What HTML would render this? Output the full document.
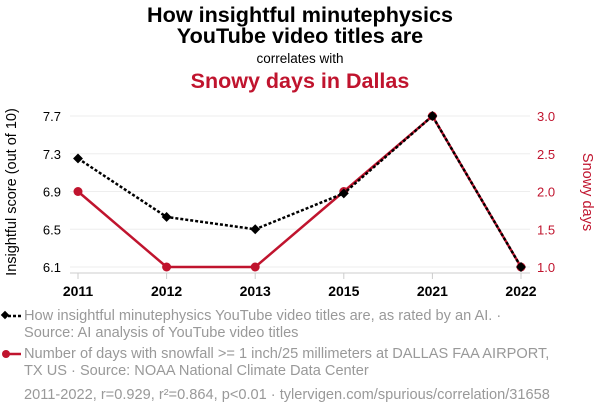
<!DOCTYPE html>
<html><head><meta charset="utf-8"><style>
body{margin:0;background:#fff;font-family:"Liberation Sans",Arial,sans-serif}
svg text{font-family:"Liberation Sans",Arial,sans-serif}
</style></head><body>
<svg id="chart" width="600" height="414" viewBox="0 0 600 414">
<text x="300" y="22" text-anchor="middle" font-size="21.6" font-weight="bold">How insightful minutephysics</text>
<text x="300" y="43" text-anchor="middle" font-size="21.6" font-weight="bold">YouTube video titles are</text>
<text x="300" y="63" text-anchor="middle" font-size="13.5">correlates with</text>
<text x="300" y="88" text-anchor="middle" font-size="21.5" font-weight="bold" fill="#c0142e">Snowy days in Dallas</text>
<g id="grid"></g><g id="axes"></g><g id="marks"></g>
<text transform="translate(16,192) rotate(-90)" text-anchor="middle" font-size="14.5">Insightful score (out of 10)</text>
<text transform="translate(583,192) rotate(90)" text-anchor="middle" font-size="14.5" fill="#c0142e">Snowy days</text>
<g>
<line x1="3" y1="316" x2="21" y2="316" stroke="#000" stroke-width="2.5" stroke-dasharray="3,2"/>
<rect x="2" y="312" width="6" height="6" transform="rotate(45 5 315)" fill="#000"/>
<text x="24" y="320" font-size="14.6" fill="#999">How insightful minutephysics YouTube video titles are, as rated by an AI. ·</text>
<text x="24" y="337" font-size="14.6" fill="#999">Source: AI analysis of YouTube video titles</text>
</g>
<g>
<line x1="3" y1="354" x2="21" y2="354" stroke="#c0142e" stroke-width="2.5"/>
<circle cx="6" cy="354" r="4" fill="#c0142e"/>
<text x="24" y="358" font-size="14.6" fill="#999">Number of days with snowfall &gt;= 1 inch/25 millimeters at DALLAS FAA AIRPORT,</text>
<text x="24" y="375" font-size="14.6" fill="#999">TX US · Source: NOAA National Climate Data Center</text>
</g>
<text x="24" y="399" font-size="14.6" fill="#999">2011-2022, r=0.929, r²=0.864, p&lt;0.01 · tylervigen.com/spurious/correlation/31658</text>
</svg>
<script>
const categories=["2011","2012","2013","2015","2021","2022"];
const insightValues=[7.25,6.63,6.5,6.88,7.7,6.1];
const snowValues=[2,1,1,2,3,1];
const leftTicks=[6.1,6.5,6.9,7.3,7.7];
const rightTicks=[1.0,1.5,2.0,2.5,3.0];
const NS="http://www.w3.org/2000/svg";
const X0=78,X1=521,YT=116,YB=267;
const xs=i=>X0+i*(X1-X0)/(categories.length-1);
const yl=v=>YB-(v-6.1)/(7.7-6.1)*(YB-YT);
const yr=v=>YB-(v-1)/(3-1)*(YB-YT);
function mk(tag,attrs,parent,text){const e=document.createElementNS(NS,tag);for(const k in attrs)e.setAttribute(k,attrs[k]);if(text!==undefined)e.textContent=text;document.getElementById(parent).appendChild(e);return e;}
leftTicks.forEach(t=>{
 const g=mk('line',{x1:70,x2:530,y1:yl(t),y2:yl(t),stroke:'#eee','stroke-width':1},'grid');
 
 
 const l=mk('text',{x:61,y:yl(t)+5,'text-anchor':'end','font-size':13},'axes',t.toFixed(1));
 
 
});
rightTicks.forEach(t=>{
 const l=mk('text',{x:537,y:yr(t)+5,'font-size':13,fill:'#c0142e'},'axes',t.toFixed(1));
 
 
});
const ax=mk('line',{x1:70,x2:530,y1:273,y2:273,stroke:'#ccc','stroke-width':1},'axes');


categories.forEach((c,i)=>{
 const tk=mk('line',{x1:xs(i),x2:xs(i),y1:273,y2:279,stroke:'#ccc'},'axes');
 
 
 const l=mk('text',{x:xs(i),y:296,'text-anchor':'middle','font-size':14,'font-weight':'bold'},'axes',c);
 
 
});
const rp=mk('polyline',{points:snowValues.map((v,i)=>xs(i)+','+yr(v)).join(' '),fill:'none',stroke:'#c0142e','stroke-width':2.5},'marks');


snowValues.forEach((v,i)=>{
 const c=mk('circle',{cx:xs(i),cy:yr(v),r:4.5,fill:'#c0142e'},'marks');
 
 
});
const bp=mk('polyline',{points:insightValues.map((v,i)=>xs(i)+','+yl(v)).join(' '),fill:'none',stroke:'#000','stroke-width':2.5,'stroke-dasharray':'3,2'},'marks');


insightValues.forEach((v,i)=>{
 const x=xs(i),y=yl(v);
 const d=mk('rect',{x:x-3.5,y:y-3.5,width:7,height:7,fill:'#000',transform:`rotate(45 ${x} ${y})`},'marks');
 
 
});
</script>
</body></html>
